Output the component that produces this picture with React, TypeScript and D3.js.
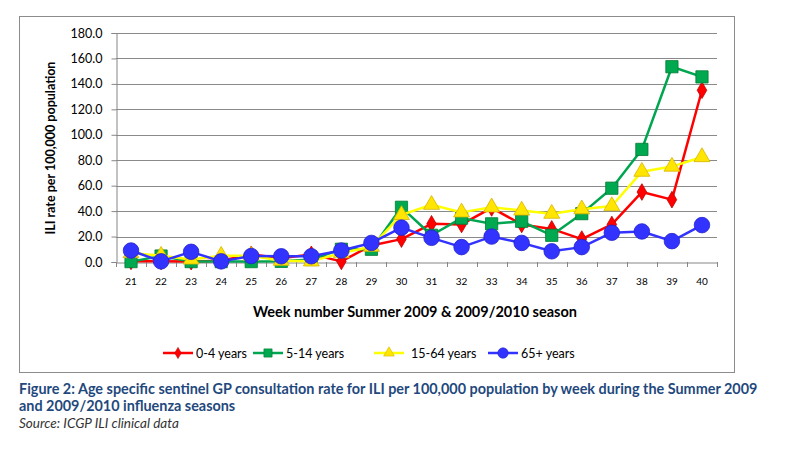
import React, { useEffect, useRef } from 'react';
import * as d3 from 'd3';

// weeks on the x axis
const weeks = ['21', '22', '23', '24', '25', '26', '27', '28', '29', '30', '31', '32', '33', '34', '35', '36', '37', '38', '39', '40'];

// ILI rate per 100,000
const age0to4 = [0.5, 0.5, 0.3, 1.0, 6.0, 3.0, 6.0, 0.5, 13.0, 18.0, 30.0, 29.5, 42.5, 29.5, 26.0, 18.0, 29.5, 55.0, 49.0, 135.0];
const age5to14 = [0.3, 4.7, 0.3, 0.3, 0.3, 0.5, 2.0, 10.0, 10.0, 43.0, 21.0, 34.5, 30.0, 32.0, 21.0, 38.0, 58.0, 88.5, 153.5, 145.5];
const age15to64 = [7.0, 5.0, 2.0, 5.0, 5.0, 1.0, 0.5, 7.0, 12.0, 37.0, 45.0, 39.0, 43.0, 40.5, 38.0, 41.5, 44.0, 71.0, 75.0, 82.5];
const age65plus = [9.0, 0.5, 8.0, 0.5, 4.7, 4.5, 4.5, 9.0, 15.0, 27.0, 19.0, 11.7, 20.0, 15.0, 8.4, 11.7, 23.0, 24.0, 16.4, 29.0];

const yTicks = [0, 20, 40, 60, 80, 100, 120, 140, 160, 180];

const seriesNames = ['0-4 years', '5-14 years', '15-64 years', '65+ years'];

const FONT = "Lato, 'Noto Sans', sans-serif";

type Marker = 'diamond' | 'square' | 'triangle' | 'circle';

const series: Array<{ name: string; values: number[]; line: string; fill: string; edge: string; marker: Marker }> = [
  { name: seriesNames[0], values: age0to4, line: '#ff0000', fill: '#ff0000', edge: '#c00000', marker: 'diamond' },
  { name: seriesNames[1], values: age5to14, line: '#00a550', fill: '#00a94f', edge: '#007a33', marker: 'square' },
  { name: seriesNames[2], values: age15to64, line: '#ffff00', fill: '#ffe500', edge: '#d8b400', marker: 'triangle' },
  { name: seriesNames[3], values: age65plus, line: '#3333ff', fill: '#3333ff', edge: '#2222cc', marker: 'circle' },
];

const markerPath = (m: Marker, size: number) => {
  const sym = {
    diamond: d3.symbolDiamond,
    square: d3.symbolSquare,
    triangle: d3.symbolTriangle,
    circle: d3.symbolCircle,
  }[m];
  return d3.symbol().type(sym).size(size)() as string;
};

const markerSize: Record<Marker, number> = { diamond: 80, square: 150, triangle: 110, circle: 190 };

const App: React.FC = () => {
  const svgRef = useRef<SVGSVGElement>(null);
  const width = 789;
  const height = 449;
  const margin = { top: 33, right: 72, bottom: 187, left: 116 };

  useEffect(() => {
    if (!svgRef.current) return;
    const svg = d3.select(svgRef.current);
    svg.selectAll('*').remove();

    const innerWidth = width - margin.left - margin.right;
    const innerHeight = height - margin.top - margin.bottom;

    // chart frame
    svg.append('rect')
      .attr('x', 19.5).attr('y', 16.5)
      .attr('width', 715).attr('height', 356)
      .attr('fill', '#fff')
      .attr('stroke', '#8c8c8c');

    const g = svg.append('g').attr('transform', `translate(${margin.left},${margin.top})`);

    const x = d3.scaleBand().domain(weeks).range([0, innerWidth]);
    const y = d3.scaleLinear().domain([0, 180]).range([innerHeight, 0]);

    // gridlines
    g.append('g')
      .selectAll('line')
      .data(yTicks.filter(t => t > 0))
      .enter()
      .append('line')
      .attr('x1', 0).attr('x2', innerWidth)
      .attr('y1', d => Math.round(y(d)) + 0.5).attr('y2', d => Math.round(y(d)) + 0.5)
      .attr('stroke', '#8a8a8a');

    // y axis
    const yAxis = g.append('g')
      .attr('transform', 'translate(0.5,0)')
      .call(d3.axisLeft(y).tickValues(yTicks).tickSize(5).tickFormat(d => (d as number).toFixed(1)));
    yAxis.select('.domain').attr('stroke', '#868686');
    yAxis.selectAll('.tick line').attr('stroke', '#868686');
    yAxis.selectAll('text')
      .attr('x', -14)
      .style('font-family', FONT)
      .style('font-size', '12.5px')
      .style('fill', '#000');

    // x axis
    const xAxis = g.append('g')
      .attr('transform', `translate(0,${innerHeight + 0.5})`)
      .call(d3.axisBottom(x).tickSize(0).tickSizeOuter(0));
    xAxis.select('.domain').attr('stroke', '#868686');
    xAxis.selectAll('text')
      .attr('dy', '1.9em')
      .style('font-family', FONT)
      .style('font-size', '10px')
      .style('fill', '#000');
    // tick marks between categories
    g.append('g')
      .selectAll('line')
      .data(d3.range(weeks.length + 1))
      .enter()
      .append('line')
      .attr('x1', i => Math.round(i * x.step()) + 0.5)
      .attr('x2', i => Math.round(i * x.step()) + 0.5)
      .attr('y1', innerHeight)
      .attr('y2', innerHeight + 5)
      .attr('stroke', '#868686');

    // axis titles
    svg.append('text')
      .attr('transform', `translate(55,148) rotate(-90)`)
      .attr('text-anchor', 'middle')
      .style('font-family', FONT)
      .style('font-size', '12.5px')
      .style('font-weight', 'bold')
      .text('ILI rate per 100,000 population');

    svg.append('text')
      .attr('x', 415).attr('y', 317)
      .attr('text-anchor', 'middle')
      .style('font-family', FONT)
      .style('font-size', '14.5px')
      .style('font-weight', 'bold')
      .text('Week number Summer 2009 & 2009/2010 season');

    const cx = (w: string) => (x(w) as number) + x.bandwidth() / 2;

    // series
    series.forEach(s => {
      const line = d3.line<number>()
        .x((_, i) => cx(weeks[i]))
        .y(d => y(d));
      g.append('path')
        .datum(s.values)
        .attr('fill', 'none')
        .attr('stroke', s.line)
        .attr('stroke-width', 2.5)
        .attr('stroke-linejoin', 'round')
        .attr('d', line);

      g.selectAll(null)
        .data(s.values)
        .enter()
        .append('path')
        .attr('transform', (d, i) => `translate(${cx(weeks[i])},${y(d)})`)
        .attr('d', markerPath(s.marker, markerSize[s.marker]))
        .attr('fill', s.fill)
        .attr('stroke', s.edge)
        .attr('stroke-width', 0.8);
    });

    // legend
    const legendX = [163, 253, 374, 488];
    const legend = svg.append('g').attr('transform', 'translate(0,353)');
    series.forEach((s, i) => {
      const lg = legend.append('g').attr('transform', `translate(${legendX[i]},0)`);
      lg.append('line')
        .attr('x1', 0).attr('x2', 30)
        .attr('stroke', s.line)
        .attr('stroke-width', 2.5);
      lg.append('path')
        .attr('transform', 'translate(15,0)')
        .attr('d', markerPath(s.marker, markerSize[s.marker] * 0.45))
        .attr('fill', s.fill)
        .attr('stroke', s.edge)
        .attr('stroke-width', 0.6);
      lg.append('text')
        .attr('x', i === 2 ? 37 : 33)
        .attr('y', 4.5)
        .style('font-family', FONT)
        .style('font-size', '12.5px')
        .text(s.name);
    });

    // caption
    const caption = svg.append('g');
    caption.append('text')
      .attr('x', 19).attr('y', 394)
      .style('font-family', FONT)
      .style('font-size', '14.4px')
      .style('font-weight', 'bold')
      .style('fill', '#1f497d')
      .text('Figure 2: Age specific sentinel GP consultation rate for ILI per 100,000 population by week during the Summer 2009');
    caption.append('text')
      .attr('x', 19).attr('y', 411)
      .style('font-family', FONT)
      .style('font-size', '14.4px')
      .style('font-weight', 'bold')
      .style('fill', '#1f497d')
      .text('and 2009/2010 influenza seasons');
    caption.append('text')
      .attr('x', 19).attr('y', 428)
      .style('font-family', FONT)
      .style('font-size', '13.5px')
      .style('font-style', 'italic')
      .style('fill', '#333')
      .text('Source: ICGP ILI clinical data');
  }, []);

  return (
    <svg
      ref={svgRef}
      width={width}
      height={height}
      viewBox={`0 0 ${width} ${height}`}
      style={{ position: 'absolute', left: 0, top: 0, background: '#fff' }}
    />
  );
};

export default App;
